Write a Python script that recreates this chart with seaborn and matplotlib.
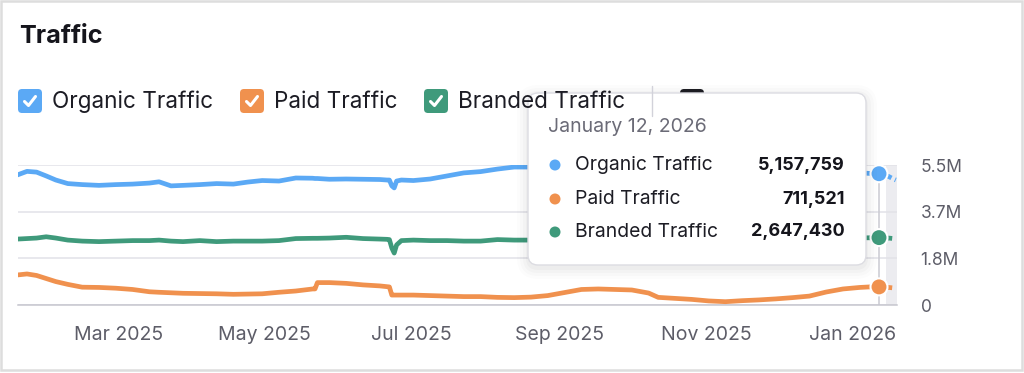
import matplotlib
matplotlib.use("Agg")
import numpy as np
import pandas as pd
import matplotlib.pyplot as plt
from matplotlib.patches import FancyBboxPatch, Rectangle, Circle
from matplotlib.lines import Line2D
import seaborn as sns

# ---------------- data ----------------
dates = [
    "2025-01-18", "2025-01-22", "2025-01-26", "2025-01-30", "2025-02-03", "2025-02-08",
    "2025-02-14", "2025-02-21", "2025-02-28", "2025-03-07", "2025-03-14", "2025-03-18",
    "2025-03-23", "2025-03-28", "2025-04-04", "2025-04-11", "2025-04-18", "2025-04-24",
    "2025-04-30", "2025-05-07", "2025-05-14", "2025-05-21", "2025-05-22", "2025-05-23",
    "2025-05-28", "2025-06-04", "2025-06-11", "2025-06-18", "2025-06-21", "2025-06-22",
    "2025-06-23", "2025-06-24", "2025-06-25", "2025-06-27", "2025-07-02", "2025-07-09",
    "2025-07-16", "2025-07-23", "2025-07-30", "2025-08-06", "2025-08-13", "2025-08-20",
    "2025-08-27", "2025-09-03", "2025-09-10", "2025-09-17", "2025-09-24", "2025-10-01",
    "2025-10-08", "2025-10-12", "2025-10-19", "2025-10-26", "2025-11-02", "2025-11-09",
    "2025-11-16", "2025-11-23", "2025-11-30", "2025-12-07", "2025-12-14", "2025-12-21",
    "2025-12-28", "2026-01-04", "2026-01-08", "2026-01-12", "2026-01-14", "2026-01-16",
    "2026-01-18", "2026-01-19",
]

# values in millions
organic = [
    5.11, 5.25, 5.22, 5.07, 4.91, 4.77, 4.73, 4.70, 4.73, 4.75, 4.79, 4.84,
    4.68, 4.70, 4.73, 4.77, 4.75, 4.83, 4.89, 4.87, 4.99, 4.98, 4.97, 4.97,
    4.94, 4.95, 4.94, 4.93, 4.91, 4.91, 4.68, 4.60, 4.87, 4.91, 4.89, 4.95,
    5.07, 5.19, 5.24, 5.34, 5.42, 5.42, 5.44, 5.46, 5.44, 5.46, 5.42, 5.42,
    5.38, 5.38, 5.36, 5.34, 5.30, 5.30, 5.28, 5.26, 5.26, 5.22, 5.22, 5.21,
    5.19, 5.19, 5.17, 5.157759, 5.11, 5.05, 4.95, 4.91,
]
paid = [
    1.18, 1.22, 1.16, 1.04, 0.92, 0.81, 0.70, 0.69, 0.66, 0.61, 0.52, 0.50,
    0.48, 0.46, 0.45, 0.44, 0.42, 0.43, 0.44, 0.50, 0.55, 0.63, 0.63, 0.88,
    0.88, 0.85, 0.79, 0.75, 0.72, 0.71, 0.39, 0.39, 0.39, 0.39, 0.39, 0.37,
    0.35, 0.33, 0.33, 0.30, 0.29, 0.31, 0.37, 0.49, 0.61, 0.63, 0.61, 0.59,
    0.47, 0.30, 0.26, 0.22, 0.16, 0.13, 0.17, 0.20, 0.24, 0.29, 0.35, 0.51,
    0.63, 0.69, 0.71, 0.711521, 0.71, 0.69, 0.67, 0.67,
]
branded = [
    2.59, 2.61, 2.63, 2.68, 2.63, 2.55, 2.51, 2.49, 2.51, 2.53, 2.53, 2.55,
    2.51, 2.49, 2.53, 2.49, 2.51, 2.51, 2.51, 2.53, 2.61, 2.62, 2.62, 2.62,
    2.63, 2.66, 2.61, 2.59, 2.58, 2.57, 2.24, 2.04, 2.36, 2.53, 2.55, 2.53,
    2.53, 2.51, 2.51, 2.57, 2.55, 2.55, 2.55, 2.56, 2.55, 2.57, 2.56, 2.55,
    2.57, 2.58, 2.57, 2.58, 2.59, 2.58, 2.60, 2.61, 2.60, 2.62, 2.63, 2.63,
    2.63, 2.64, 2.64, 2.64743, 2.63, 2.63, 2.61, 2.61,
]

series_names = ["Organic Traffic", "Paid Traffic", "Branded Traffic"]
series_colors = ["#5BA9F5", "#F0914E", "#3F9A7B"]
hover_date = "2026-01-12"
hover_values = [5157759, 711521, 2647430]
tooltip_title = "January 12, 2026"
partial_start = "2026-01-15"
x_limits = ["2025-01-18 06:00", "2026-01-19 12:00"]
y_ticks = [0, 1.8333e6, 3.6667e6, 5.5e6]
y_tick_labels = ["0", "1.8M", "3.7M", "5.5M"]
x_ticks = ["2025-03-01", "2025-05-01", "2025-07-01", "2025-09-01", "2025-11-01", "2026-01-01"]
x_tick_labels = ["Mar 2025", "May 2025", "Jul 2025", "Sep 2025", "Nov 2025", "Jan 2026"]
chart_title = "Traffic"

# ---------------- figure ----------------
sns.set_theme(style="white")
plt.rcParams["font.family"] = ["Inter", "DejaVu Sans"]

W, H = 1024, 373
fig = plt.figure(figsize=(W / 100, H / 100), dpi=100)
fig.patch.set_facecolor("white")

ax_l, ax_r, ax_t, ax_b = 18, 897, 165, 305
ax = fig.add_axes([ax_l / W, (H - ax_b) / H, (ax_r - ax_l) / W, (ax_b - ax_t) / H])

dt = pd.to_datetime(dates)
frames = []
for name, vals in zip(series_names, [organic, paid, branded]):
    frames.append(pd.DataFrame({"date": dt, "value": np.array(vals) * 1e6, "series": name}))
df = pd.concat(frames, ignore_index=True)
hd = pd.Timestamp(hover_date)
palette = dict(zip(series_names, series_colors))

ax.axvspan(pd.Timestamp(partial_start), pd.Timestamp(x_limits[1]), color="#ececf0", zorder=0, lw=0)
ax.axvline(hd, color="#cacad2", lw=1.1, zorder=1)

LW = 3.4
solid = df[df["date"] <= hd]
sns.lineplot(data=solid, x="date", y="value", hue="series", palette=palette,
             hue_order=series_names, estimator=None, linewidth=LW, legend=False,
             ax=ax, solid_capstyle="round", solid_joinstyle="round", zorder=3)
for name in series_names:
    part = df[(df["series"] == name) & (df["date"] >= hd)]
    sns.lineplot(data=part, x="date", y="value", color=palette[name], estimator=None,
                 linewidth=LW, ax=ax, linestyle=(0, (1.0, 0.8)), legend=False, zorder=3)

hover_df = pd.DataFrame({"date": [hd] * 3, "value": hover_values, "series": series_names})
sns.scatterplot(data=hover_df, x="date", y="value", hue="series", palette=palette,
                hue_order=series_names, s=150, edgecolor="white", linewidth=1.5,
                legend=False, ax=ax, zorder=5, clip_on=False)

ax.set_xlim(pd.Timestamp(x_limits[0]), pd.Timestamp(x_limits[1]))
ax.set_ylim(0, 5.5e6)
ax.set_yticks(y_ticks)
ax.set_yticklabels(y_tick_labels)
ax.set_xticks(pd.to_datetime(x_ticks))
ax.set_xticklabels(x_tick_labels)
ax.yaxis.tick_right()
ax.tick_params(axis="y", length=0, pad=17, labelsize=12.5, labelcolor="#5d5d68")
ax.tick_params(axis="x", length=0, pad=15, labelsize=14, labelcolor="#5d5d68")
ax.set_xlabel("")
ax.set_ylabel("")
ax.grid(axis="y", color="#e2e2e8", lw=1.1)
ax.grid(axis="x", visible=False)
ax.set_axisbelow(True)
for s in ["top", "left", "right"]:
    ax.spines[s].set_visible(False)
ax.spines["bottom"].set_color("#c6c6ce")
ax.spines["bottom"].set_linewidth(1.1)
ax.set_facecolor("none")

# ---------------- overlay in pixel coordinates ----------------
ov = fig.add_axes([0, 0, 1, 1], zorder=10)
ov.set_xlim(0, W)
ov.set_ylim(H, 0)
ov.axis("off")
ov.patch.set_alpha(0)

# card border
ov.add_patch(Rectangle((1, 1), W - 3, H - 4, fill=False, ec="#dddddd", lw=1.8))

ov.text(19, 43, chart_title, fontsize=18.2, fontweight="bold", color="#15151c", va="baseline", ha="left")

# legend
legend_x = [18, 240, 424]
for lx, name, col in zip(legend_x, series_names, series_colors):
    ov.add_patch(FancyBboxPatch((lx, 89), 24, 24, boxstyle="round,pad=0,rounding_size=4",
                                fc=col, ec="none"))
    ov.add_line(Line2D([lx + 6.5, lx + 10.5, lx + 17.5], [101.5, 105.5, 96.5],
                       color="white", lw=2.2, solid_capstyle="round", solid_joinstyle="round"))
    ov.text(lx + 34, 102, name, fontsize=16.2, color="#1c1c24", va="center", ha="left")
ov.add_line(Line2D([652, 652], [86, 116], color="#d2d2da", lw=1))
ov.add_patch(FancyBboxPatch((680, 89), 24, 24, boxstyle="round,pad=0,rounding_size=4",
                            fc="#1e1e24", ec="none"))

# tooltip
tx0, ty0, tx1, ty1 = 528, 93, 866, 265
for i, a in enumerate([0.025, 0.02, 0.015, 0.01]):
    p = 2 + 3 * i
    ov.add_patch(FancyBboxPatch((tx0 - p, ty0 - p + 3), tx1 - tx0 + 2 * p, ty1 - ty0 + 2 * p,
                                boxstyle=f"round,pad=0,rounding_size={10 + p}",
                                fc="black", ec="none", alpha=a))
ov.add_patch(FancyBboxPatch((tx0, ty0), tx1 - tx0, ty1 - ty0,
                            boxstyle="round,pad=0,rounding_size=10",
                            fc="white", ec="#dcdce2", lw=1))
ov.text(548, 127, tooltip_title, fontsize=14, color="#6b6b77", va="center", ha="left")
row_y = [165, 199, 232]
for ry, name, col, val in zip(row_y, series_names, series_colors, hover_values):
    ov.add_patch(Circle((555, ry), 5.5, fc=col, ec="none"))
    ov.text(575, ry, name, fontsize=13.9, color="#1c1c24", va="center", ha="left")
    ov.text(845, ry, f"{val:,}", fontsize=13, fontweight="bold", color="#15151c",
            va="center", ha="right")

fig.savefig("out.png", dpi=100, facecolor="white")
